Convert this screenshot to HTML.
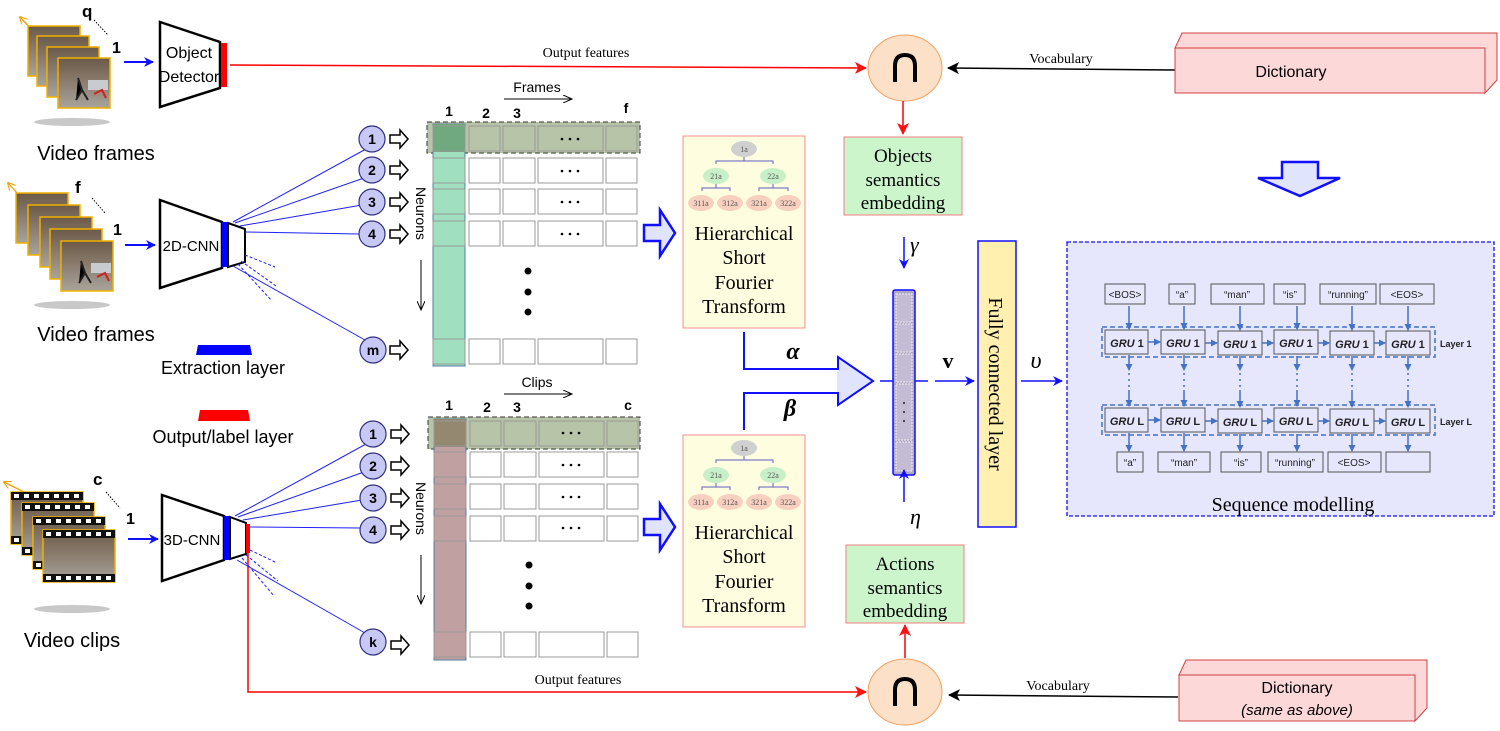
<!DOCTYPE html>
<html><head><meta charset="utf-8"><style>
html,body{margin:0;padding:0;background:#fff;}
svg{display:block;font-family:"Liberation Sans",sans-serif;}
.serif{font-family:"Liberation Serif",serif;}
</style></head><body>
<svg width="1500" height="731" viewBox="0 0 1500 731" xmlns="http://www.w3.org/2000/svg">
<defs>
<marker id="ab" markerWidth="10" markerHeight="10" refX="9" refY="5" orient="auto" markerUnits="userSpaceOnUse"><path d="M0,0 L10,5 L0,10 L3,5z" fill="#1010ff"/></marker>
<marker id="ar" markerWidth="12" markerHeight="12" refX="11" refY="6" orient="auto" markerUnits="userSpaceOnUse"><path d="M0,0 L12,6 L0,12 L3,6z" fill="#ff1010"/></marker>
<marker id="ak" markerWidth="12" markerHeight="12" refX="11" refY="6" orient="auto" markerUnits="userSpaceOnUse"><path d="M0,0 L12,6 L0,12 L3,6z" fill="#000"/></marker>
<marker id="as" markerWidth="7" markerHeight="7" refX="6" refY="3.5" orient="auto" markerUnits="userSpaceOnUse"><path d="M0,0 L7,3.5 L0,7z" fill="#4472c4"/></marker>
<marker id="ao" markerWidth="8" markerHeight="8" refX="7" refY="4" orient="auto" markerUnits="userSpaceOnUse"><path d="M0,0 L8,4 L0,8" fill="none" stroke="#f0a000"/></marker>
<marker id="al" markerWidth="10" markerHeight="8" refX="9" refY="4" orient="auto" markerUnits="userSpaceOnUse"><path d="M0,0 L9,4 L0,8" fill="none" stroke="#000"/></marker>
<linearGradient id="ph" x1="0" y1="0" x2="0" y2="1"><stop offset="0" stop-color="#6b5a48"/><stop offset="0.5" stop-color="#8c7e70"/><stop offset="1" stop-color="#a8a49c"/></linearGradient>
<g id="frm"><rect width="52" height="50" fill="url(#ph)" stroke="#f0b000" stroke-width="1.5"/><rect x="30" y="22" width="20" height="10" fill="#c8ccd0"/><path d="M20,20 l4,12 l-6,10 M24,32 l6,10" stroke="#222" stroke-width="2"/><path d="M36,36 l8,-4 l4,8" stroke="#d02020" stroke-width="2" fill="none"/></g>
<g id="clp"><rect width="72" height="52" fill="url(#ph)" stroke="#f0b000" stroke-width="1.5"/><rect width="72" height="8" fill="#111"/><rect y="44" width="72" height="8" fill="#111"/>
<g fill="#fff"><rect x="3" y="2" width="5" height="4"/><rect x="13" y="2" width="5" height="4"/><rect x="23" y="2" width="5" height="4"/><rect x="33" y="2" width="5" height="4"/><rect x="43" y="2" width="5" height="4"/><rect x="53" y="2" width="5" height="4"/><rect x="63" y="2" width="5" height="4"/>
<rect x="3" y="46" width="5" height="4"/><rect x="13" y="46" width="5" height="4"/><rect x="23" y="46" width="5" height="4"/><rect x="33" y="46" width="5" height="4"/><rect x="43" y="46" width="5" height="4"/><rect x="53" y="46" width="5" height="4"/><rect x="63" y="46" width="5" height="4"/></g></g>
<g id="harr"><path d="M0,-4 L10,-4 L10,-9 L18,0 L10,9 L10,4 L0,4z" fill="#fff" stroke="#000" stroke-width="1.5"/></g>
</defs>

<line x1="60" y1="60" x2="20" y2="17" stroke="#f0a000" stroke-width="1.3" marker-end="url(#ao)"/>
<use href="#frm" x="28" y="26"/><use href="#frm" x="37" y="36"/><use href="#frm" x="47" y="47"/><use href="#frm" x="58" y="58"/>
<ellipse cx="72" cy="122" rx="38" ry="4" fill="#c8c8c8"/>
<text x="82" y="17" font-weight="bold" font-size="17">q</text>
<line x1="94" y1="20" x2="108" y2="35" stroke="#000" stroke-dasharray="1.5,1.5"/>
<text x="112" y="53" font-weight="bold" font-size="16">1</text>
<text x="96" y="160" font-size="20" text-anchor="middle">Video frames</text>
<line x1="124" y1="62" x2="153" y2="62" stroke="#1010ff" stroke-width="2" marker-end="url(#ab)"/>
<path d="M160,22 L220,42 L220,88 L160,107z" fill="#fff" stroke="#000" stroke-width="2.5"/>
<rect x="221" y="43" width="6" height="44" fill="#ff0000"/>
<text x="189" y="58" font-size="16" text-anchor="middle">Object</text>
<text x="189" y="82" font-size="16" text-anchor="middle">Detector</text>
<line x1="230" y1="65" x2="866" y2="68" stroke="#ff0000" stroke-width="1.5" marker-end="url(#ar)"/>
<text x="586" y="57" class="serif" font-size="14" text-anchor="middle">Output features</text>

<ellipse cx="905" cy="68" rx="37" ry="33" fill="#fce0c8" stroke="#f0a060"/>
<path d="M895,82 L895,66 Q895,55 905,55 Q915,55 915,66 L915,82" fill="none" stroke="#000" stroke-width="4"/>
<line x1="1175" y1="70" x2="948" y2="68" stroke="#000" stroke-width="1.5" marker-end="url(#ak)"/>
<text x="1061" y="63" class="serif" font-size="14" text-anchor="middle">Vocabulary</text>
<path d="M1175,48 L1182,33 L1497,33 L1497,80 L1485,93 L1485,48z" fill="#fdd8d8" stroke="#d04040"/>
<rect x="1175" y="48" width="310" height="45" fill="#fdd8d8" stroke="#d04040"/>
<text x="1291" y="77" font-size="16" text-anchor="middle">Dictionary</text>
<line x1="903" y1="101" x2="903" y2="134" stroke="#ff0000" stroke-width="1.5" marker-end="url(#ar)"/>
<rect x="844" y="137" width="118" height="78" fill="#ccf5cc" stroke="#f08080"/>
<text class="serif" font-size="19" text-anchor="middle"><tspan x="903" y="162">Objects</tspan><tspan x="903" y="186">semantics</tspan><tspan x="903" y="209">embedding</tspan></text>

<ellipse cx="905" cy="692" rx="37" ry="33" fill="#fce0c8" stroke="#f0a060"/>
<path d="M895,706 L895,690 Q895,679 905,679 Q915,679 915,690 L915,706" fill="none" stroke="#000" stroke-width="4"/>
<line x1="1178" y1="697" x2="949" y2="695" stroke="#000" stroke-width="1.5" marker-end="url(#ak)"/>
<text x="1058" y="690" class="serif" font-size="14" text-anchor="middle">Vocabulary</text>
<path d="M1179,675 L1186,660 L1427,660 L1427,708 L1415,721 L1415,675z" fill="#fdd8d8" stroke="#d04040"/>
<rect x="1179" y="675" width="236" height="46" fill="#fdd8d8" stroke="#d04040"/>
<text x="1297" y="693" font-size="16" text-anchor="middle">Dictionary</text>
<text x="1297" y="715" font-size="15" font-style="italic" text-anchor="middle">(same as above)</text>
<line x1="905" y1="658" x2="905" y2="625" stroke="#ff0000" stroke-width="1.5" marker-end="url(#ar)"/>
<rect x="846" y="545" width="118" height="78" fill="#ccf5cc" stroke="#f08080"/>
<text class="serif" font-size="19" text-anchor="middle"><tspan x="905" y="570">Actions</tspan><tspan x="905" y="594">semantics</tspan><tspan x="905" y="617">embedding</tspan></text>

<line x1="55" y1="235" x2="8" y2="183" stroke="#f0a000" stroke-width="1.3" marker-end="url(#ao)"/>
<use href="#frm" x="16" y="193"/><use href="#frm" x="28" y="205"/><use href="#frm" x="40" y="217"/><use href="#frm" x="50" y="229"/><use href="#frm" x="61" y="241"/>
<ellipse cx="72" cy="305" rx="38" ry="4" fill="#c8c8c8"/>
<text x="75" y="193" font-weight="bold" font-size="17">f</text>
<line x1="92" y1="198" x2="105" y2="213" stroke="#000" stroke-dasharray="1.5,1.5"/>
<text x="113" y="235" font-weight="bold" font-size="16">1</text>
<text x="96" y="341" font-size="20" text-anchor="middle">Video frames</text>
<path d="M198,345 L250,345 L252,355 L196,355z" fill="#0000ff"/>
<text x="223" y="374" font-size="18" text-anchor="middle">Extraction layer</text>
<path d="M200,410 L248,410 L250,421 L198,421z" fill="#ff0000"/>
<text x="223" y="443" font-size="18" text-anchor="middle">Output/label layer</text>
<line x1="125" y1="245" x2="155" y2="245" stroke="#1010ff" stroke-width="2" marker-end="url(#ab)"/>
<path d="M160,200 L222,222 L222,268 L160,288z" fill="#fff" stroke="#000" stroke-width="2.5"/>
<rect x="222" y="222" width="6" height="45" fill="#0000ff"/>
<path d="M228,223 L245,229 L245,262 L228,267z" fill="#fff" stroke="#000" stroke-width="2"/>
<text x="191" y="251" font-size="15" text-anchor="middle">2D-CNN</text>

<line x1="40" y1="500" x2="4" y2="482" stroke="#f0a000" stroke-width="1.3" marker-end="url(#ao)"/>
<use href="#clp" x="11" y="492"/><use href="#clp" x="22" y="503"/><use href="#clp" x="33" y="517"/><use href="#clp" x="43" y="530"/>
<ellipse cx="72" cy="609" rx="38" ry="4" fill="#c8c8c8"/>
<text x="93" y="485" font-weight="bold" font-size="17">c</text>
<line x1="106" y1="492" x2="120" y2="508" stroke="#000" stroke-dasharray="1.5,1.5"/>
<text x="126" y="524" font-weight="bold" font-size="16">1</text>
<text x="72" y="647" font-size="20" text-anchor="middle">Video clips</text>
<line x1="128" y1="539" x2="158" y2="539" stroke="#1010ff" stroke-width="2" marker-end="url(#ab)"/>
<path d="M162,495 L224,516 L224,560 L162,581z" fill="#fff" stroke="#000" stroke-width="2.5"/>
<rect x="224" y="516" width="6" height="44" fill="#0000ff"/>
<path d="M230,517 L246,523 L246,554 L230,559z" fill="#fff" stroke="#000" stroke-width="2"/>
<rect x="246" y="524" width="4" height="29" fill="#ff0000"/>
<text x="192" y="545" font-size="15" text-anchor="middle">3D-CNN</text>
<polyline points="248,553 248,692 866,692" fill="none" stroke="#ff0000" stroke-width="1.5" marker-end="url(#ar)"/>
<text x="578" y="684" class="serif" font-size="14" text-anchor="middle">Output features</text>

<g stroke="#2020ff" stroke-width="1">
<line x1="233" y1="222" x2="366" y2="149"/><line x1="235" y1="223" x2="364" y2="178"/><line x1="240" y1="226" x2="362" y2="205"/><line x1="245" y1="232" x2="360" y2="234"/><line x1="233" y1="266" x2="365" y2="340"/>
<g stroke-dasharray="3,2"><line x1="245" y1="255" x2="275" y2="267"/><line x1="241" y1="261" x2="276" y2="286"/><line x1="238" y1="264" x2="272" y2="301"/></g>
<line x1="235" y1="516" x2="366" y2="444"/><line x1="238" y1="517" x2="364" y2="472"/><line x1="243" y1="520" x2="362" y2="500"/><line x1="250" y1="527" x2="360" y2="528"/><line x1="237" y1="560" x2="365" y2="633"/>
<g stroke-dasharray="3,2"><line x1="250" y1="550" x2="277" y2="563"/><line x1="246" y1="555" x2="278" y2="581"/><line x1="242" y1="558" x2="274" y2="596"/></g>
</g>
<g fill="#c8c8f5" stroke="#303080" stroke-width="1.2">
<circle cx="372" cy="139" r="13"/><circle cx="372" cy="170" r="13"/><circle cx="372" cy="202" r="13"/><circle cx="372" cy="234" r="13"/><circle cx="373" cy="350" r="13"/>
<circle cx="373" cy="434" r="13"/><circle cx="373" cy="466" r="13"/><circle cx="373" cy="498" r="13"/><circle cx="373" cy="530" r="13"/><circle cx="373" cy="642" r="13"/>
</g>
<g font-weight="bold" font-size="14" text-anchor="middle">
<text x="372" y="144">1</text><text x="372" y="175">2</text><text x="372" y="207">3</text><text x="372" y="239">4</text><text x="373" y="355">m</text>
<text x="373" y="439">1</text><text x="373" y="471">2</text><text x="373" y="503">3</text><text x="373" y="535">4</text><text x="373" y="647">k</text>
</g>
<use href="#harr" x="390" y="139"/><use href="#harr" x="390" y="170"/><use href="#harr" x="390" y="202"/><use href="#harr" x="390" y="234"/><use href="#harr" x="390" y="350"/>
<use href="#harr" x="391" y="434"/><use href="#harr" x="391" y="466"/><use href="#harr" x="391" y="498"/><use href="#harr" x="391" y="530"/><use href="#harr" x="391" y="645"/>

<text transform="translate(416,187) rotate(90)" font-size="14">Neurons</text>
<line x1="421" y1="260" x2="421" y2="310" stroke="#000" marker-end="url(#al)"/>
<text transform="translate(416,482) rotate(90)" font-size="14">Neurons</text>
<line x1="421" y1="555" x2="421" y2="604" stroke="#000" marker-end="url(#al)"/>

<rect x="427" y="122" width="213" height="31" fill="#b8c4a8" stroke="#333" stroke-dasharray="5,3"/>
<rect x="433" y="124" width="32" height="242" fill="#a0e0c0" stroke="#5080a0"/>
<rect x="433" y="124" width="32" height="28" fill="#70a880"/>
<g fill="none" stroke="#999">
<rect x="433" y="126" width="32" height="25"/><rect x="469" y="126" width="31" height="25"/><rect x="503" y="126" width="32" height="25"/><rect x="538" y="126" width="65" height="25"/><rect x="606" y="126" width="31" height="25"/>
<g fill="#fff"><rect x="469" y="158" width="31" height="25"/><rect x="503" y="158" width="32" height="25"/><rect x="538" y="158" width="65" height="25"/><rect x="606" y="158" width="31" height="25"/>
<rect x="469" y="189" width="31" height="25"/><rect x="503" y="189" width="32" height="25"/><rect x="538" y="189" width="65" height="25"/><rect x="606" y="189" width="31" height="25"/>
<rect x="469" y="221" width="31" height="25"/><rect x="503" y="221" width="32" height="25"/><rect x="538" y="221" width="65" height="25"/><rect x="606" y="221" width="31" height="25"/>
<rect x="469" y="339" width="31" height="25"/><rect x="503" y="339" width="32" height="25"/><rect x="538" y="339" width="65" height="25"/><rect x="606" y="339" width="31" height="25"/></g>
<rect x="433" y="158" width="32" height="25"/><rect x="433" y="189" width="32" height="25"/><rect x="433" y="221" width="32" height="25"/><rect x="433" y="339" width="32" height="25"/>
</g>
<g fill="#000"><circle cx="562" cy="139" r="1.3"/><circle cx="570" cy="139" r="1.3"/><circle cx="578" cy="139" r="1.3"/>
<circle cx="562" cy="171" r="1.3"/><circle cx="570" cy="171" r="1.3"/><circle cx="578" cy="171" r="1.3"/>
<circle cx="562" cy="202" r="1.3"/><circle cx="570" cy="202" r="1.3"/><circle cx="578" cy="202" r="1.3"/>
<circle cx="562" cy="234" r="1.3"/><circle cx="570" cy="234" r="1.3"/><circle cx="578" cy="234" r="1.3"/>
<circle cx="528" cy="271" r="3.5"/><circle cx="528" cy="292" r="3.5"/><circle cx="528" cy="312" r="3.5"/></g>
<g font-weight="bold" font-size="14" text-anchor="middle"><text x="449" y="116">1</text><text x="486" y="118">2</text><text x="517" y="118">3</text><text x="626" y="113">f</text></g>
<text x="537" y="92" font-size="14" text-anchor="middle">Frames</text>
<line x1="504" y1="99" x2="572" y2="99" stroke="#000" marker-end="url(#al)"/>

<rect x="428" y="417" width="212" height="32" fill="#b8c4a8" stroke="#333" stroke-dasharray="5,3"/>
<rect x="434" y="419" width="32" height="241" fill="#c0a0a0" stroke="#5080a0"/>
<rect x="434" y="419" width="32" height="28" fill="#948870"/>
<g fill="none" stroke="#999">
<rect x="434" y="421" width="32" height="25"/><rect x="470" y="421" width="31" height="25"/><rect x="504" y="421" width="32" height="25"/><rect x="539" y="421" width="65" height="25"/><rect x="607" y="421" width="31" height="25"/>
<g fill="#fff"><rect x="470" y="452" width="31" height="25"/><rect x="504" y="452" width="32" height="25"/><rect x="539" y="452" width="65" height="25"/><rect x="607" y="452" width="31" height="25"/>
<rect x="470" y="484" width="31" height="25"/><rect x="504" y="484" width="32" height="25"/><rect x="539" y="484" width="65" height="25"/><rect x="607" y="484" width="31" height="25"/>
<rect x="470" y="516" width="31" height="25"/><rect x="504" y="516" width="32" height="25"/><rect x="539" y="516" width="65" height="25"/><rect x="607" y="516" width="31" height="25"/>
<rect x="470" y="632" width="31" height="25"/><rect x="504" y="632" width="32" height="25"/><rect x="539" y="632" width="65" height="25"/><rect x="607" y="632" width="31" height="25"/></g>
<rect x="434" y="452" width="32" height="25"/><rect x="434" y="484" width="32" height="25"/><rect x="434" y="516" width="32" height="25"/><rect x="434" y="632" width="32" height="25"/>
</g>
<g fill="#000"><circle cx="563" cy="433" r="1.3"/><circle cx="571" cy="433" r="1.3"/><circle cx="579" cy="433" r="1.3"/>
<circle cx="563" cy="465" r="1.3"/><circle cx="571" cy="465" r="1.3"/><circle cx="579" cy="465" r="1.3"/>
<circle cx="563" cy="497" r="1.3"/><circle cx="571" cy="497" r="1.3"/><circle cx="579" cy="497" r="1.3"/>
<circle cx="563" cy="528" r="1.3"/><circle cx="571" cy="528" r="1.3"/><circle cx="579" cy="528" r="1.3"/>
<circle cx="529" cy="565" r="3.5"/><circle cx="529" cy="586" r="3.5"/><circle cx="529" cy="606" r="3.5"/></g>
<g font-weight="bold" font-size="14" text-anchor="middle"><text x="449" y="410">1</text><text x="487" y="412">2</text><text x="517" y="412">3</text><text x="628" y="410">c</text></g>
<text x="537" y="387" font-size="14" text-anchor="middle">Clips</text>
<line x1="504" y1="394" x2="572" y2="394" stroke="#000" marker-end="url(#al)"/>

<path d="M644,225 L660,225 L660,210 L675,233 L660,256 L660,241 L644,241z" fill="#e0e4fc" stroke="#1010ff" stroke-width="2.5"/>
<path d="M644,519 L660,519 L660,504 L675,527 L660,550 L660,535 L644,535z" fill="#e0e4fc" stroke="#1010ff" stroke-width="2.5"/>

<g id="hs">
<rect x="683" y="136" width="122" height="192" fill="#fffde0" stroke="#f09090"/>
<ellipse cx="744" cy="149" rx="13" ry="8" fill="#d0d0d0"/><text x="744" y="152" class="serif" font-size="8" text-anchor="middle" fill="#555">1a</text>
<path d="M716,164 L716,161 L773,161 L773,164 M744,157 L744,161" fill="none" stroke="#6060c0"/>
<ellipse cx="716" cy="176" rx="13" ry="8" fill="#c8f0c8"/><ellipse cx="773" cy="176" rx="13" ry="8" fill="#c8f0c8"/>
<text x="716" y="179" class="serif" font-size="8" text-anchor="middle" fill="#555">21a</text><text x="773" y="179" class="serif" font-size="8" text-anchor="middle" fill="#555">22a</text>
<path d="M702,191 L702,188 L730,188 L730,191 M716,184 L716,188 M759,191 L759,188 L788,188 L788,191 M773,184 L773,188" fill="none" stroke="#6060c0"/>
<g fill="#f8d0c0"><ellipse cx="701" cy="203" rx="13" ry="8"/><ellipse cx="730" cy="203" rx="13" ry="8"/><ellipse cx="759" cy="203" rx="13" ry="8"/><ellipse cx="788" cy="203" rx="13" ry="8"/></g>
<g class="serif" font-size="8" text-anchor="middle" fill="#555"><text x="701" y="206">311a</text><text x="730" y="206">312a</text><text x="759" y="206">321a</text><text x="788" y="206">322a</text></g>
<text class="serif" font-size="20" text-anchor="middle"><tspan x="744" y="240">Hierarchical</tspan><tspan x="744" y="264">Short</tspan><tspan x="744" y="289">Fourier</tspan><tspan x="744" y="313">Transform</tspan></text>
</g>
<use href="#hs" y="299"/>

<path d="M744,332 L744,369 L838,369 L838,357 L873,381 L838,405 L838,393 L744,393 L744,430" fill="#e0e4fc" stroke="#1010ff" stroke-width="2"/>
<rect x="742" y="370" width="95" height="22" fill="#fff"/>
<line x1="744" y1="393" x2="838" y2="393" stroke="#1010ff" stroke-width="2"/>
<line x1="744" y1="369" x2="838" y2="369" stroke="#1010ff" stroke-width="2"/>
<text x="793" y="359" class="serif" font-size="24" font-style="italic" font-weight="bold" text-anchor="middle">α</text>
<text x="790" y="416" class="serif" font-size="24" font-style="italic" font-weight="bold" text-anchor="middle">β</text>

<line x1="880" y1="381" x2="928" y2="381" stroke="#1010ff" stroke-width="1.5"/>
<rect x="893" y="290" width="22" height="185" rx="2" fill="#b0a8c4" stroke="#1010ff" stroke-width="1.5"/>
<g fill="#c4bcd4" stroke="#eee" stroke-dasharray="2,1"><rect x="896" y="294" width="16" height="28"/><rect x="896" y="324" width="16" height="28"/><rect x="896" y="354" width="16" height="28"/><rect x="896" y="384" width="16" height="56"/><rect x="896" y="442" width="16" height="29"/></g>
<g fill="#222"><circle cx="904" cy="403" r="1"/><circle cx="904" cy="412" r="1"/><circle cx="904" cy="421" r="1"/></g>
<line x1="904" y1="237" x2="904" y2="268" stroke="#1010ff" stroke-width="1.5" marker-end="url(#ab)"/>
<text x="910" y="252" class="serif" font-size="22" font-style="italic">γ</text>
<line x1="904" y1="502" x2="904" y2="470" stroke="#1010ff" stroke-width="1.5" marker-end="url(#ab)"/>
<text x="910" y="524" class="serif" font-size="22" font-style="italic">η</text>
<line x1="935" y1="381" x2="974" y2="381" stroke="#1010ff" stroke-width="1.5" marker-end="url(#ab)"/>
<text x="948" y="368" class="serif" font-size="22" font-weight="bold" text-anchor="middle">v</text>
<rect x="978" y="241" width="38" height="286" fill="#fff0b0" stroke="#1010ff" stroke-width="1.5"/>
<text transform="translate(989,384) rotate(90)" class="serif" font-size="20" text-anchor="middle">Fully connected layer</text>
<line x1="1021" y1="381" x2="1062" y2="381" stroke="#1010ff" stroke-width="1.5" marker-end="url(#ab)"/>
<text x="1036" y="368" class="serif" font-size="24" font-style="italic" text-anchor="middle">υ</text>

<path d="M1282,162 L1318,162 L1318,178 L1340,178 L1300,196 L1258,178 L1282,178z" fill="#e0e4fc" stroke="#1010ff" stroke-width="2.5"/>

<rect x="1067" y="242" width="427" height="274" fill="#e6e6fc" stroke="#1010ff" stroke-width="1.3" stroke-dasharray="4,2"/>
<g fill="#e6e6fc" stroke="#555" stroke-width="1">
<rect x="1105" y="284" width="40" height="20"/><rect x="1169" y="284" width="26" height="20"/><rect x="1211" y="284" width="53" height="20"/><rect x="1274" y="284" width="31" height="20"/><rect x="1320" y="284" width="56" height="20"/><rect x="1380" y="284" width="54" height="20"/>
<rect x="1117" y="452" width="26" height="20"/><rect x="1158" y="452" width="52" height="20"/><rect x="1221" y="452" width="40" height="20"/><rect x="1268" y="452" width="55" height="20"/><rect x="1328" y="452" width="53" height="20"/><rect x="1386" y="452" width="44" height="20"/>
</g>
<g font-size="10" text-anchor="middle" fill="#222">
<text x="1125" y="298">&lt;BOS&gt;</text><text x="1182" y="298">“a”</text><text x="1237" y="298">“man”</text><text x="1290" y="298">“is”</text><text x="1348" y="298">“running”</text><text x="1407" y="298">&lt;EOS&gt;</text>
<text x="1130" y="466">“a”</text><text x="1184" y="466">“man”</text><text x="1241" y="466">“is”</text><text x="1295" y="466">“running”</text><text x="1354" y="466">&lt;EOS&gt;</text>
</g>
<g fill="none" stroke="#4472c4" stroke-width="1.5" stroke-dasharray="5,3"><rect x="1102" y="327" width="333" height="30"/><rect x="1102" y="405" width="333" height="30"/></g>
<g fill="#e6e6fc" stroke="#555">
<rect x="1105" y="330" width="43" height="24"/><rect x="1161" y="330" width="44" height="24"/><rect x="1218" y="331" width="44" height="24"/><rect x="1274" y="330" width="44" height="24"/><rect x="1330" y="331" width="44" height="24"/><rect x="1386" y="331" width="44" height="24"/>
<rect x="1105" y="408" width="43" height="24"/><rect x="1161" y="408" width="44" height="24"/><rect x="1218" y="409" width="44" height="24"/><rect x="1274" y="408" width="44" height="24"/><rect x="1330" y="409" width="44" height="24"/><rect x="1386" y="409" width="44" height="24"/>
</g>
<g font-size="11" font-weight="bold" text-anchor="middle" fill="#222">
<text x="1127" y="347"><tspan font-style="italic">GRU</tspan> 1</text><text x="1183" y="347"><tspan font-style="italic">GRU</tspan> 1</text><text x="1240" y="348"><tspan font-style="italic">GRU</tspan> 1</text><text x="1296" y="347"><tspan font-style="italic">GRU</tspan> 1</text><text x="1352" y="348"><tspan font-style="italic">GRU</tspan> 1</text><text x="1408" y="348"><tspan font-style="italic">GRU</tspan> 1</text>
<text x="1127" y="425"><tspan font-style="italic">GRU</tspan> L</text><text x="1183" y="425"><tspan font-style="italic">GRU</tspan> L</text><text x="1240" y="426"><tspan font-style="italic">GRU</tspan> L</text><text x="1296" y="425"><tspan font-style="italic">GRU</tspan> L</text><text x="1352" y="426"><tspan font-style="italic">GRU</tspan> L</text><text x="1408" y="426"><tspan font-style="italic">GRU</tspan> L</text>
</g>
<g font-size="9" font-weight="bold" fill="#222"><text x="1440" y="347">Layer 1</text><text x="1440" y="425">Layer L</text></g>
<g stroke="#4472c4" stroke-width="1.5" marker-end="url(#as)">
<line x1="1129" y1="306" x2="1129" y2="329"/><line x1="1184" y1="306" x2="1184" y2="329"/><line x1="1240" y1="306" x2="1240" y2="330"/><line x1="1297" y1="306" x2="1297" y2="329"/><line x1="1352" y1="306" x2="1352" y2="330"/><line x1="1408" y1="306" x2="1408" y2="330"/>
<line x1="1148" y1="342" x2="1160" y2="342"/><line x1="1205" y1="343" x2="1217" y2="343"/><line x1="1262" y1="343" x2="1273" y2="343"/><line x1="1318" y1="343" x2="1329" y2="343"/><line x1="1374" y1="343" x2="1385" y2="343"/>
<line x1="1148" y1="420" x2="1160" y2="420"/><line x1="1205" y1="421" x2="1217" y2="421"/><line x1="1262" y1="421" x2="1273" y2="421"/><line x1="1318" y1="421" x2="1329" y2="421"/><line x1="1374" y1="421" x2="1385" y2="421"/>
<line x1="1129" y1="433" x2="1129" y2="451"/><line x1="1184" y1="433" x2="1184" y2="451"/><line x1="1240" y1="434" x2="1240" y2="451"/><line x1="1297" y1="434" x2="1297" y2="451"/><line x1="1352" y1="434" x2="1352" y2="451"/><line x1="1408" y1="434" x2="1408" y2="451"/>
</g>
<g stroke="#4472c4" stroke-width="1.5">
<g marker-end="url(#as)"><line x1="1129" y1="355" x2="1129" y2="370"/><line x1="1184" y1="355" x2="1184" y2="370"/><line x1="1240" y1="356" x2="1240" y2="370"/><line x1="1297" y1="356" x2="1297" y2="370"/><line x1="1352" y1="356" x2="1352" y2="370"/><line x1="1408" y1="356" x2="1408" y2="370"/>
<line x1="1129" y1="390" x2="1129" y2="406"/><line x1="1184" y1="390" x2="1184" y2="406"/><line x1="1240" y1="390" x2="1240" y2="407"/><line x1="1297" y1="390" x2="1297" y2="406"/><line x1="1352" y1="390" x2="1352" y2="407"/><line x1="1408" y1="390" x2="1408" y2="407"/></g>
<g stroke-dasharray="2,4"><line x1="1129" y1="373" x2="1129" y2="390"/><line x1="1184" y1="373" x2="1184" y2="390"/><line x1="1240" y1="373" x2="1240" y2="390"/><line x1="1297" y1="373" x2="1297" y2="390"/><line x1="1352" y1="373" x2="1352" y2="390"/><line x1="1408" y1="373" x2="1408" y2="390"/></g>
</g>
<text x="1293" y="511" class="serif" font-size="20" text-anchor="middle">Sequence modelling</text>
</svg>
</body></html>
